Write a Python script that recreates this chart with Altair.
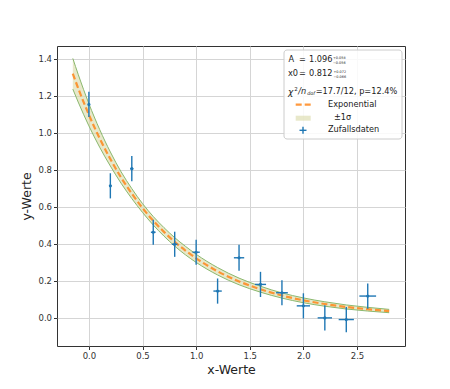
import altair as alt
import pandas as pd

# ---------------- data ----------------
data_x = [0.0, 0.2, 0.4, 0.6, 0.8, 1.0, 1.2, 1.4, 1.6, 1.8, 2.0, 2.2, 2.4, 2.6]
data_y = [1.152, 0.712, 0.805, 0.461, 0.396, 0.353, 0.143, 0.323, 0.179, 0.134, 0.063, -0.002, -0.011, 0.116]
data_xerr = [0.005, 0.01, 0.015, 0.022, 0.026, 0.034, 0.039, 0.048, 0.052, 0.055, 0.062, 0.067, 0.071, 0.078]
data_yerr = [0.068, 0.068, 0.068, 0.068, 0.068, 0.068, 0.068, 0.07, 0.068, 0.068, 0.068, 0.068, 0.068, 0.068]

curve_x = [-0.15, -0.1, 0.0, 0.1, 0.2, 0.3, 0.4, 0.5, 0.6, 0.7, 0.8, 0.9, 1.0,
           1.2, 1.4, 1.6, 1.8, 2.0, 2.2, 2.4, 2.6, 2.8]
curve_y = [1.318, 1.240, 1.096, 0.969, 0.857, 0.757, 0.670, 0.592, 0.523, 0.463, 0.409, 0.362, 0.320,
           0.250, 0.195, 0.153, 0.119, 0.093, 0.073, 0.057, 0.045, 0.035]
band_half = [0.083, 0.075, 0.060, 0.048, 0.038, 0.031, 0.027, 0.024, 0.023, 0.023, 0.023, 0.023, 0.022,
             0.020, 0.018, 0.016, 0.014, 0.013, 0.012, 0.011, 0.010, 0.009]

x_ticks = [0.0, 0.5, 1.0, 1.5, 2.0, 2.5]
y_ticks = [0.0, 0.2, 0.4, 0.6, 0.8, 1.0, 1.2, 1.4]

# ---------------- tables ----------------
pts = pd.DataFrame({"x": data_x, "y": data_y, "xe": data_xerr, "ye": data_yerr})
pts["xlo"] = pts.x - pts.xe
pts["xhi"] = pts.x + pts.xe
pts["ylo"] = pts.y - pts.ye
pts["yhi"] = pts.y + pts.ye

cur = pd.DataFrame({"x": curve_x, "y": curve_y, "h": band_half})
cur["lo"] = cur.y - cur.h
cur["hi"] = cur.y + cur.h

W, H = 348, 300
FONT = "DejaVu Sans"
BLUE = "#1f77b4"
ORANGE = "#ff7f0e"
BAND_FILL = "#d9d9a6"
BAND_EDGE = "#8ab86e"

xs = alt.Scale(domain=[-0.2975, 2.9475], nice=False, zero=False)
ys = alt.Scale(domain=[-0.154, 1.468], nice=False, zero=False)

xaxis = alt.Axis(values=x_ticks, format=".1f", title="x-Werte", grid=True)
yaxis = alt.Axis(values=y_ticks, format=".1f", title="y-Werte", grid=True)

band = alt.Chart(cur).mark_area(color=BAND_FILL, opacity=0.6, interpolate="monotone").encode(
    x=alt.X("x:Q", scale=xs, axis=xaxis),
    y=alt.Y("lo:Q", scale=ys, axis=yaxis),
    y2="hi:Q",
)
edge_lo = alt.Chart(cur).mark_line(color=BAND_EDGE, strokeWidth=1, interpolate="monotone").encode(
    x=alt.X("x:Q", scale=xs), y=alt.Y("lo:Q", scale=ys))
edge_hi = alt.Chart(cur).mark_line(color=BAND_EDGE, strokeWidth=1, interpolate="monotone").encode(
    x=alt.X("x:Q", scale=xs), y=alt.Y("hi:Q", scale=ys))
fit = alt.Chart(cur).mark_line(color=ORANGE, strokeWidth=2.2, strokeDash=[6, 3], opacity=0.8,
                               interpolate="monotone").encode(
    x=alt.X("x:Q", scale=xs), y=alt.Y("y:Q", scale=ys))

ebar_y = alt.Chart(pts).mark_rule(color=BLUE, strokeWidth=1.4).encode(
    x=alt.X("x:Q", scale=xs), y=alt.Y("ylo:Q", scale=ys), y2="yhi:Q")
ebar_x = alt.Chart(pts).mark_rule(color=BLUE, strokeWidth=1.4).encode(
    x=alt.X("xlo:Q", scale=xs), x2="xhi:Q", y=alt.Y("y:Q", scale=ys))
dots = alt.Chart(pts).mark_point(color=BLUE, filled=True, size=10, opacity=1).encode(
    x=alt.X("x:Q", scale=xs), y=alt.Y("y:Q", scale=ys))

# ---------------- legend box (pixel positions inside the plot area) ----------------
one = pd.DataFrame({"a": [0]})
box = alt.Chart(one).mark_rect(fill="white", fillOpacity=0.85, stroke="#cccccc",
                               strokeWidth=1, cornerRadius=3).encode(
    x=alt.value(227), x2=alt.value(345), y=alt.value(4), y2=alt.value(93))


def txt(s, x, y, size=8.2, style="normal"):
    return alt.Chart(one).mark_text(text=s, font=FONT, fontSize=size, fontStyle=style,
                                    align="left", baseline="middle", color="#222222").encode(
        x=alt.value(x), y=alt.value(y))


texts = [
    txt("A", 231.5, 14),
    txt("=", 242, 14),
    txt("1.096", 252, 14),
    txt("+0.058", 276, 12, size=3.4),
    txt("\u22120.056", 276, 16.7, size=3.4),
    txt("x0", 231, 28.3),
    txt("=", 242, 28.3),
    txt("0.812", 252, 28.3),
    txt("+0.072", 276.5, 25.7, size=3.4),
    txt("\u22120.066", 276.5, 30.7, size=3.4),
    txt("\u03c7", 231, 45.7, size=9, style="italic"),
    txt("2", 237.3, 42.5, size=5.5),
    txt("/n", 241.3, 45.7, style="italic"),
    txt("dof", 250.3, 47.8, size=4.8, style="italic"),
    txt("=17.7/12, p=12.4%", 258.7, 45.7),
    txt("Exponential", 271, 58.7),
    txt("\u00b11\u03c3", 277, 72),
    txt("Zufallsdaten", 271, 84.3),
]

leg_line = alt.Chart(one).mark_rule(color=ORANGE, strokeWidth=2.2, strokeDash=[6, 3], opacity=0.8).encode(
    x=alt.value(238.7), x2=alt.value(253.7), y=alt.value(58.7))
leg_rect = alt.Chart(one).mark_rect(fill=BAND_FILL, opacity=0.6).encode(
    x=alt.value(238.7), x2=alt.value(253.7), y=alt.value(69.7), y2=alt.value(74.7))
leg_h = alt.Chart(one).mark_rule(color=BLUE, strokeWidth=1.4).encode(
    x=alt.value(242.5), x2=alt.value(249.5), y=alt.value(84.3))
leg_v = alt.Chart(one).mark_rule(color=BLUE, strokeWidth=1.4).encode(
    x=alt.value(246), y=alt.value(80.8), y2=alt.value(87.8))

chart = alt.layer(band, edge_lo, edge_hi, fit, ebar_y, ebar_x, dots,
                  box, leg_line, leg_rect, leg_h, leg_v, *texts).properties(
    width=W, height=H,
    autosize=alt.AutoSizeParams(type="none"),
    padding={"left": 49, "top": 38, "right": 37, "bottom": 35},
    background="white",
).configure_view(
    stroke="#333333", strokeWidth=1
).configure_axis(
    labelFont=FONT, labelFontSize=8.5, labelColor="#333333",
    titleFont=FONT, titleFontSize=12.5, titleFontWeight="normal", titleColor="#222222",
    domain=False, tickColor="#333333", tickSize=3.5, labelPadding=2,
    gridColor="#d5d5d5", gridWidth=1,
).configure_axisX(titlePadding=3).configure_axisY(titlePadding=4)

chart.save("out.html", embed_options={"renderer": "svg", "actions": False})
